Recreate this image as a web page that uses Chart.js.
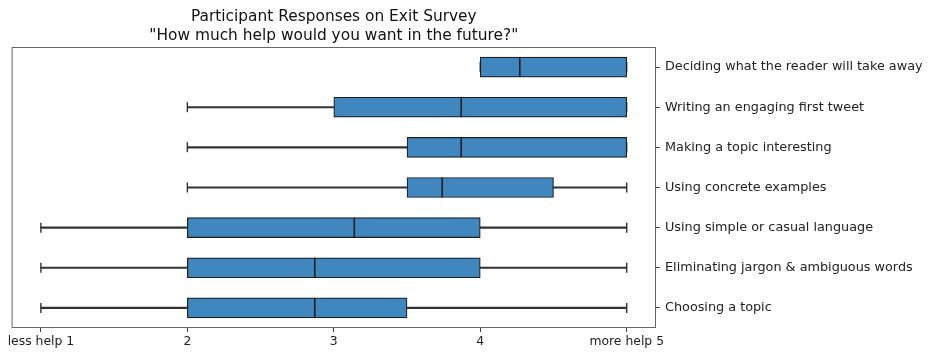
<!DOCTYPE html>
<html>
<head>
<meta charset="utf-8">
<script src="https://cdn.jsdelivr.net/npm/chart.js@4"></script>
<style>
  html, body { margin: 0; padding: 0; background: #fff; }
  #wrap { width: 929px; height: 355px; }
</style>
</head>
<body>
<div id="wrap"><canvas id="boxChart"></canvas></div>
<script>
// Survey items, top to bottom
const topics = [
    'Deciding what the reader will take away',
    'Writing an engaging first tweet',
    'Making a topic interesting',
    'Using concrete examples',
    'Using simple or casual language',
    'Eliminating jargon & ambiguous words',
    'Choosing a topic'
];
const whiskerLow  = [4, 2, 2, 2, 1, 1, 1];
const boxLow      = [4, 3, 3.5, 3.5, 2, 2, 2];
const medians     = [4.27, 3.87, 3.87, 3.74, 3.14, 2.87, 2.87];
const boxHigh     = [5, 5, 5, 4.5, 4, 4, 3.5];
const whiskerHigh = [5, 5, 5, 5, 5, 5, 5];

const titleLines = ['Participant Responses on Exit Survey', '"How much help would you want in the future?"'];
const xTicks = [1, 2, 3, 4, 5];
const xTickText = { 1: 'less help 1', 5: 'more help 5' };

const boxColor = '#4187bf';
const edge = '#1e1e1e';
const font = "'DejaVu Sans', sans-serif";

// plot frame + title centred over the axes, like matplotlib
const framePlugin = {
    id: 'frame',
    afterDatasetsDraw(chart) {
        const { ctx, chartArea: a } = chart;
        ctx.save();
        ctx.strokeStyle = '#666';
        ctx.lineWidth = 1;
        ctx.strokeRect(a.left + 0.5, a.top + 0.5, a.right - a.left - 1, a.bottom - a.top - 1);
        ctx.fillStyle = '#111';
        ctx.font = "15.4px " + font;
        ctx.textAlign = 'center';
        ctx.textBaseline = 'alphabetic';
        let cx = (a.left + a.right) / 2;
        ctx.fillText(titleLines[0], cx, 21);
        ctx.fillText(titleLines[1], cx, 40);
        ctx.restore();
    }
};

let ctx = document.getElementById('boxChart').getContext('2d');

new Chart(ctx, {
    type: 'bar',
    data: {
        labels: topics,
        datasets: [
            {
                // medians
                type: 'scatter',
                indexAxis: 'y',
                data: topics.map((t, i) => ({ x: medians[i], y: t })),
                pointStyle: 'line',
                rotation: 90,
                radius: 10,
                borderColor: edge,
                borderWidth: 1.6
            },
            {
                // boxes
                data: topics.map((t, i) => [boxLow[i], boxHigh[i]]),
                backgroundColor: boxColor,
                borderColor: edge,
                borderWidth: 1.2,
                borderSkipped: false,
                barThickness: 20,
                grouped: false
            },
            {
                // caps
                type: 'scatter',
                indexAxis: 'y',
                data: topics.flatMap((t, i) => [
                    { x: whiskerLow[i], y: t },
                    { x: whiskerHigh[i], y: t }
                ]),
                pointStyle: 'line',
                rotation: 90,
                radius: 5,
                borderColor: '#333',
                borderWidth: 1.4
            },
            {
                // whiskers
                data: topics.map((t, i) => [whiskerLow[i], whiskerHigh[i]]),
                backgroundColor: '#333',
                borderWidth: 0,
                barThickness: 1.5,
                grouped: false
            }
        ]
    },
    options: {
        indexAxis: 'y',
        responsive: true,
        maintainAspectRatio: false,
        animation: false,
        layout: { padding: { top: 47, left: 11, right: 0, bottom: 0 } },
        plugins: {
            legend: { display: false },
            tooltip: { enabled: false },
            title: { display: false }
        },
        scales: {
            x: {
                type: 'linear',
                min: 0.8,
                max: 5.2,
                afterBuildTicks: scale => { scale.ticks = xTicks.map(v => ({ value: v })); },
                afterFit: scale => { scale.height = 27; },
                border: { display: false },
                grid: { drawOnChartArea: false, drawTicks: true, tickLength: 4, color: '#444' },
                ticks: {
                    color: '#222',
                    font: { family: font, size: 12.4 },
                    padding: 2,
                    maxRotation: 0,
                    callback: v => xTickText[v] || String(v)
                }
            },
            y: {
                type: 'category',
                position: 'right',
                afterFit: scale => { scale.width = 273; },
                border: { display: false },
                grid: { drawOnChartArea: false, drawTicks: true, tickLength: 4, color: '#444', offset: false },
                ticks: {
                    color: '#222',
                    font: { family: font, size: 12.8 },
                    padding: 5
                }
            }
        }
    },
    plugins: [framePlugin]
});
</script>
</body>
</html>
